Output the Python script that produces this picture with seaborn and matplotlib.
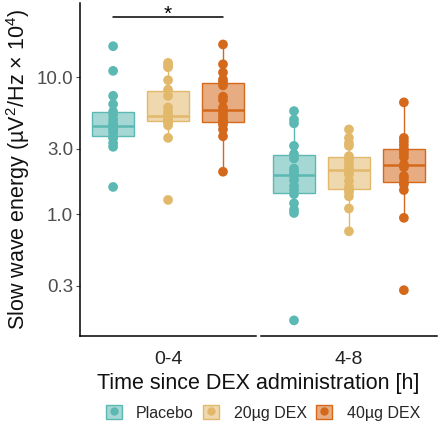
import matplotlib
matplotlib.use("Agg")
import matplotlib.pyplot as plt
import seaborn as sns
import pandas as pd
from matplotlib.colors import to_rgba
from matplotlib.patches import Patch
from matplotlib.lines import Line2D

# groups, panels and colours
groups = ["Placebo", "20µg DEX", "40µg DEX"]
times = ["0-4", "4-8"]
colors = ["#5CB8B2", "#E2B86B", "#D4691C"]

# slow wave energy (µV²/Hz × 10⁴)
placebo_0_4 = [16.8, 11.1, 7.3, 6.35, 5.6, 5.3, 4.9, 4.6, 4.45, 4.35, 4.25, 4.1,
               3.9, 3.65, 3.6, 3.3, 3.1, 1.58]
dex20_0_4 = [12.7, 12.2, 11.8, 9.5, 8.1, 7.3, 6.0, 5.6, 5.3, 5.15, 5.1, 5.0,
             4.9, 4.75, 4.7, 4.45, 3.6, 1.27]
dex40_0_4 = [17.3, 12.4, 10.8, 9.6, 9.2, 8.7, 7.2, 6.8, 6.0, 5.6, 5.3, 5.0,
             4.8, 4.7, 4.5, 4.15, 3.7, 2.04]
placebo_4_8 = [5.65, 4.9, 4.6, 3.15, 2.75, 2.55, 2.15, 2.05, 1.95, 1.9, 1.77,
               1.6, 1.5, 1.4, 1.2, 1.08, 1.02, 0.168]
dex20_4_8 = [4.15, 3.6, 3.3, 3.15, 2.65, 2.55, 2.45, 2.3, 2.15, 2.05, 1.95,
             1.75, 1.58, 1.5, 1.45, 1.35, 1.1, 0.75]
dex40_4_8 = [6.54, 3.6, 3.4, 3.2, 3.0, 2.9, 2.75, 2.6, 2.3, 2.25, 2.2, 1.9,
             1.82, 1.7, 1.65, 1.5, 0.94, 0.279]

y_ticks = [0.3, 1, 3, 10]
y_ticklabels = ["0.3", "1.0", "3.0", "10.0"]

values = {
    ("0-4", "Placebo"): placebo_0_4, ("0-4", "20µg DEX"): dex20_0_4,
    ("0-4", "40µg DEX"): dex40_0_4, ("4-8", "Placebo"): placebo_4_8,
    ("4-8", "20µg DEX"): dex20_4_8, ("4-8", "40µg DEX"): dex40_4_8,
}
rows = [(t, g, v) for (t, g), vals in values.items() for v in vals]
df = pd.DataFrame(rows, columns=["time", "group", "energy"])

sns.set_style("white")
plt.rcParams["font.family"] = ["Liberation Sans", "DejaVu Sans"]
plt.rcParams["mathtext.default"] = "regular"
palette = dict(zip(groups, colors))

fig, axes = plt.subplots(1, 2, figsize=(4.4, 4.32), dpi=100, sharey=True)
fig.subplots_adjust(left=0.182, right=0.993, top=0.993, bottom=0.222, wspace=0.028)

for ax, t in zip(axes, times):
    sub = df[df["time"] == t]
    for g in groups:
        sns.boxplot(data=sub[sub["group"] == g], x="time", y="energy", hue="group",
                    hue_order=groups, palette=palette, linecolor=palette[g],
                    width=0.8, gap=0.24, dodge=True, log_scale=True, fliersize=0,
                    linewidth=1.0, medianprops={"linewidth": 1.8},
                    capprops={"linewidth": 0}, legend=False, ax=ax)
    for p in ax.patches:
        ec = p.get_edgecolor()
        p.set_facecolor((ec[0], ec[1], ec[2], 0.55))
    sns.stripplot(data=sub, x="time", y="energy", hue="group", hue_order=groups,
                  palette=palette, dodge=True, jitter=False, size=7, linewidth=0,
                  legend=False, zorder=3, ax=ax)
    ax.set_xlim(-0.427, 0.427)
    ax.set_xlabel("")
    ax.set_ylabel("")
    for s in ["top", "right"]:
        ax.spines[s].set_visible(False)
    ax.spines["bottom"].set_linewidth(1.1)
    ax.spines["bottom"].set_color("black")
    ax.tick_params(axis="x", labelsize=14, colors="#222222", length=0, pad=11)

ax0, ax1 = axes
ax0.set_yscale("log")
ax0.set_ylim(0.129, 34.7)
ax0.set_yticks(y_ticks)
ax0.set_yticklabels(y_ticklabels)
ax0.minorticks_off()
ax0.tick_params(axis="y", which="both", labelsize=13.5, colors="#4D4D4D",
                length=3, width=0.8, left=True, pad=2)
ax0.spines["left"].set_linewidth(1.1)
ax0.spines["left"].set_color("black")
ax1.spines["left"].set_visible(False)
ax1.tick_params(axis="y", which="both", left=False, labelleft=False)

ax0.set_ylabel("Slow wave energy (µV$^{2}$/Hz × 10$^{4}$)", fontsize=15.5,
               color="#111111", labelpad=3)

# significance bracket
ax0.plot([-0.267, 0.267], [27.5, 27.5], color="black", linewidth=1.1, clip_on=False)
ax0.text(0, 28.8, "*", ha="center", va="center", fontsize=15, color="black")

fig.text(0.587, 0.113, "Time since DEX administration [h]", ha="center",
         va="center", fontsize=15.5, color="#111111")

handles = [(Patch(facecolor=to_rgba(c, 0.55), edgecolor=c, linewidth=1.0),
            Line2D([], [], marker="o", color=c, linestyle="none", markersize=5))
           for c in colors]
fig.legend(handles, groups, loc="center", bbox_to_anchor=(0.597, 0.044), ncol=3,
           frameon=False, fontsize=11.5, handlelength=1.0, handleheight=0.9,
           handletextpad=0.9, columnspacing=0.6)

fig.savefig("out.png", dpi=100)
